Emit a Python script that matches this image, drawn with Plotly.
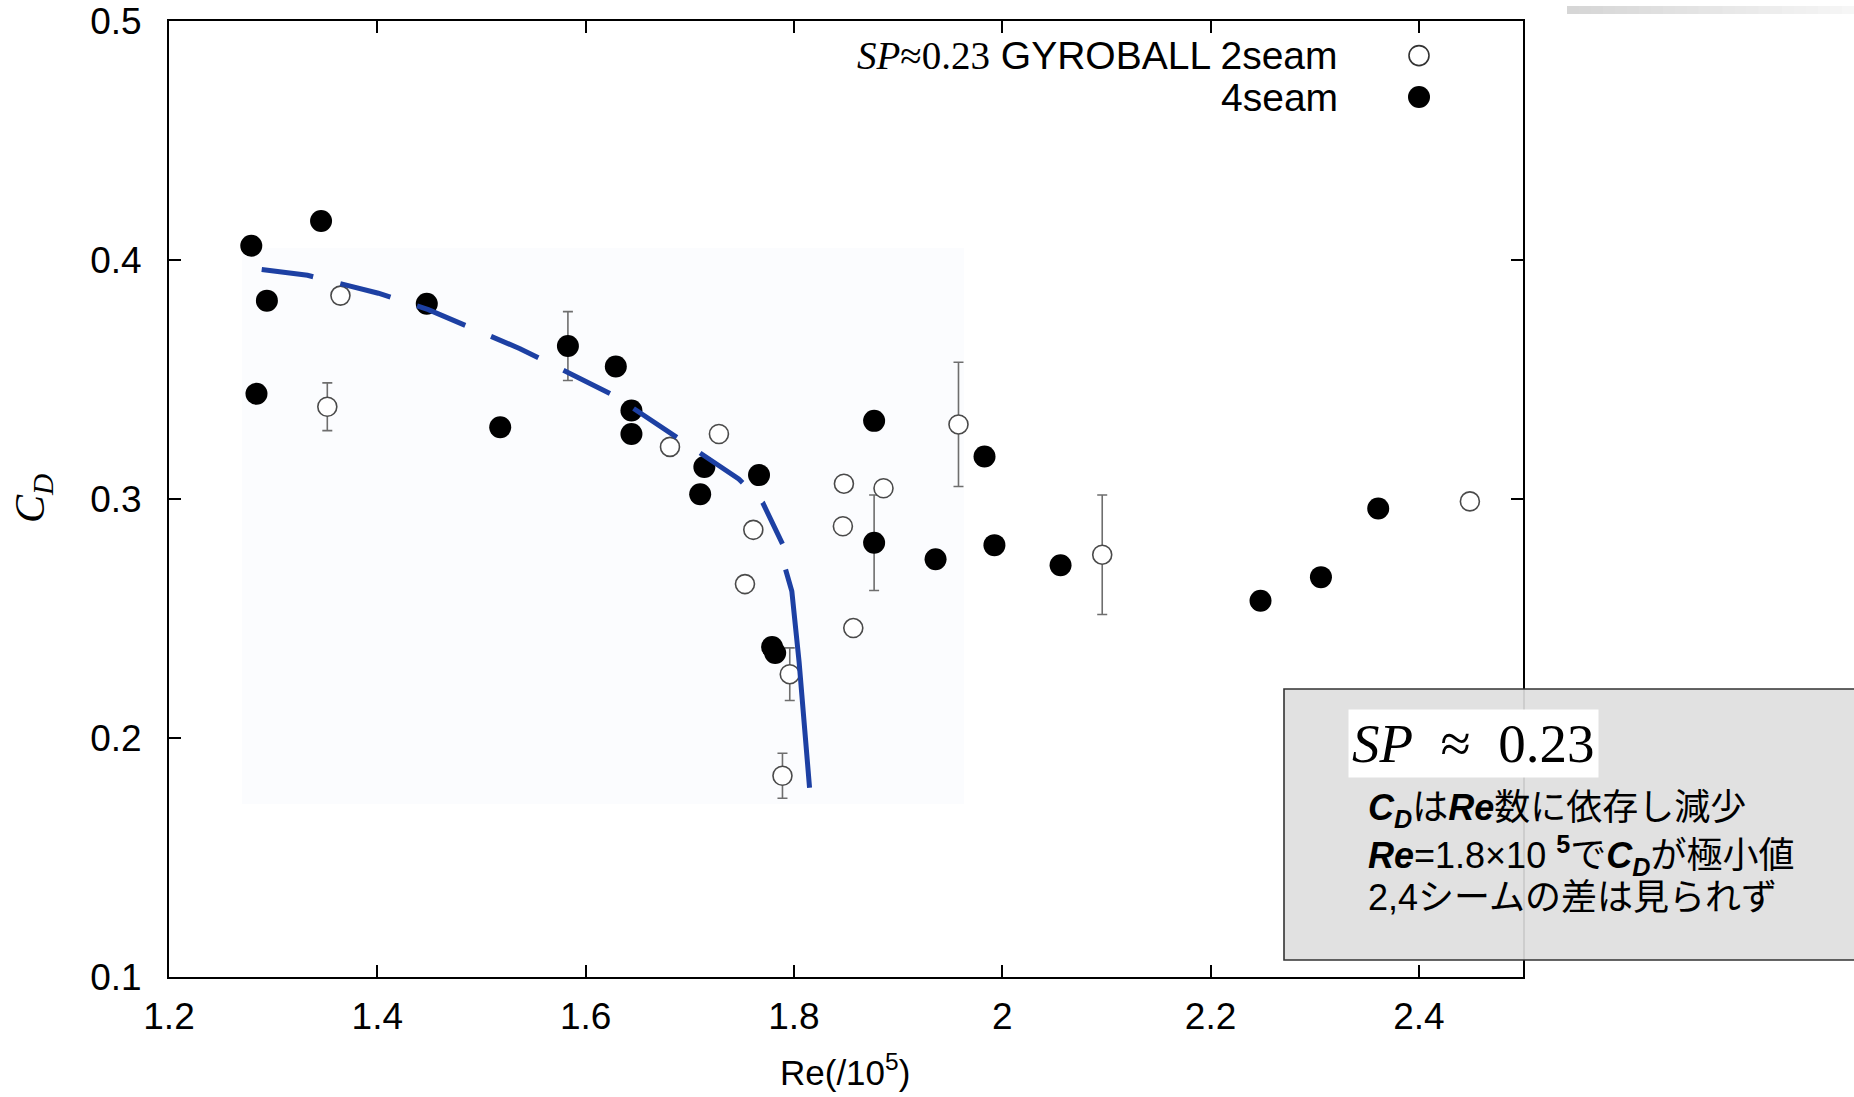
import plotly.graph_objects as go

# ---- data -----------------------------------------------------------------
# 4-seam (filled circles)
seam4_re = [1.279, 1.346, 1.294, 1.284, 1.4475, 1.518, 1.583, 1.629, 1.644, 1.644,
            1.714, 1.710, 1.7665, 1.877, 1.983, 1.877, 1.936, 1.9925, 2.056,
            1.779, 1.782, 2.248, 2.306, 2.361]
seam4_cd = [0.406, 0.4163, 0.383, 0.344, 0.3817, 0.330, 0.364, 0.3554, 0.337, 0.3272,
            0.3134, 0.302, 0.310, 0.3327, 0.3178, 0.2817, 0.2748, 0.2807, 0.2723,
            0.2381, 0.2356, 0.2574, 0.2673, 0.296]
seam4_err = [0, 0, 0, 0, 0, 0, 0.0144, 0, 0, 0,
             0, 0, 0, 0, 0, 0.020, 0, 0, 0,
             0, 0, 0, 0, 0]

# 2-seam (open circles)
seam2_re = [1.3646, 1.352, 1.681, 1.728, 1.761, 1.753, 1.796, 1.789, 1.847, 1.848,
            1.886, 1.857, 1.958, 2.096, 2.449]
seam2_cd = [0.3851, 0.3386, 0.3218, 0.3272, 0.2871, 0.2644, 0.2267, 0.1842, 0.2886, 0.3064,
            0.3045, 0.246, 0.3312, 0.2767, 0.299]
seam2_err = [0, 0.010, 0, 0, 0, 0, 0.011, 0.0094, 0, 0,
             0, 0, 0.026, 0.025, 0]

# trend curve
curve_re = [1.289, 1.333, 1.401, 1.449, 1.537, 1.628, 1.691, 1.747, 1.770, 1.789,
            1.792, 1.798, 1.805, 1.810, 1.815]
curve_cd = [0.396, 0.3936, 0.3861, 0.3792, 0.3629, 0.3431, 0.3248, 0.3084, 0.2985, 0.2812,
            0.2705, 0.2614, 0.2317, 0.2069, 0.1792]
DASHED_END = 10  # the curve is dashed up to here, solid after

x_ticks = [1.2, 1.4, 1.6, 1.8, 2.0, 2.2, 2.4]
x_tick_text = ["1.2", "1.4", "1.6", "1.8", "2", "2.2", "2.4"]
y_ticks = [0.1, 0.2, 0.3, 0.4, 0.5]
y_tick_text = ["0.1", "0.2", "0.3", "0.4", "0.5"]

# ---- layout geometry (pixels) ---------------------------------------------
W, H = 1854, 1097
PL, PR, PT, PB = 169, 1523, 21, 977
PW, PH = PR - PL, PB - PT


def px(x):
    return (x - PL) / PW


def py(y):
    return (PB - y) / PH


SANS = "Liberation Sans, Arial, Helvetica, sans-serif"
SERIF = "Liberation Serif, Times New Roman, serif"
JP = "Liberation Sans, Noto Sans CJK JP, sans-serif"
BLUE = "#1d40a3"

fig = go.Figure()

# error bars (drawn beneath the markers)
def err_trace(xs, ys, es):
    idx = [i for i, e in enumerate(es) if e > 0]
    return go.Scatter(
        x=[xs[i] for i in idx], y=[ys[i] for i in idx], mode="markers",
        marker=dict(size=1, opacity=0),
        error_y=dict(type="data", array=[es[i] for i in idx], visible=True,
                     color="#6e6e6e", thickness=1.6, width=5),
        hoverinfo="skip", showlegend=False)


fig.add_trace(err_trace(seam2_re, seam2_cd, seam2_err))
fig.add_trace(err_trace(seam4_re, seam4_cd, seam4_err))

fig.add_trace(go.Scatter(
    x=seam2_re, y=seam2_cd, mode="markers", name="2seam",
    marker=dict(symbol="circle", size=19, color="white",
                line=dict(color="#4a4a4a", width=1.6)),
    showlegend=False))

fig.add_trace(go.Scatter(
    x=seam4_re, y=seam4_cd, mode="markers", name="4seam",
    marker=dict(symbol="circle", size=22, color="black", line=dict(width=0)),
    showlegend=False))

fig.add_trace(go.Scatter(
    x=curve_re[:DASHED_END], y=curve_cd[:DASHED_END], mode="lines",
    line=dict(color=BLUE, width=5, dash="52px,28px"),
    hoverinfo="skip", showlegend=False))
fig.add_trace(go.Scatter(
    x=curve_re[DASHED_END:], y=curve_cd[DASHED_END:], mode="lines",
    line=dict(color=BLUE, width=5),
    hoverinfo="skip", showlegend=False))

axis_common = dict(
    showgrid=False, zeroline=False, showline=True, linecolor="black",
    linewidth=2, mirror="ticks", ticks="inside", ticklen=12, tickwidth=1.5,
    tickcolor="black", tickfont=dict(family=SANS, size=37, color="black"),
)

fig.update_xaxes(range=[1.2, 2.5], tickvals=x_ticks, ticktext=x_tick_text,
                 ticklabelstandoff=6, **axis_common)
fig.update_yaxes(range=[0.1, 0.5], tickvals=y_ticks, ticktext=y_tick_text,
                 ticklabelstandoff=18, **axis_common)

shapes = []

# faint tinted panel behind the low-Re data
shapes.append(dict(type="rect", xref="paper", yref="paper", layer="below",
                   x0=px(242), x1=px(964), y0=py(804), y1=py(248),
                   fillcolor="#fbfcfe", line=dict(width=0)))

# thin grey gradient strip in the top-right corner
n_strip = 24
x_start, x_end = 1567, 1854
for i in range(n_strip):
    g = int(214 + (246 - 214) * i / (n_strip - 1))
    shapes.append(dict(
        type="rect", xref="paper", yref="paper", layer="above",
        x0=px(x_start + (x_end - x_start) * i / n_strip),
        x1=px(x_start + (x_end - x_start) * (i + 1) / n_strip + 1),
        y0=py(14), y1=py(6),
        fillcolor=f"rgb({g},{g},{g})", line=dict(width=0)))

# legend keys
for yc, filled, r in [(55.6, False, 10), (97, True, 11)]:
    shapes.append(dict(
        type="circle", xref="paper", yref="paper", layer="above",
        xsizemode="pixel", ysizemode="pixel",
        xanchor=px(1419), yanchor=py(yc), x0=-r, x1=r, y0=-r, y1=r,
        fillcolor="black" if filled else "white",
        line=dict(color="#333" if not filled else "black",
                  width=1.6 if not filled else 0)))

# summary box
shapes.append(dict(type="rect", xref="paper", yref="paper", layer="above",
                   x0=px(1284), x1=px(1880), y0=py(960), y1=py(689),
                   fillcolor="rgba(222,222,222,0.92)",
                   line=dict(color="#333333", width=1.6)))

annotations = [
    # legend labels
    dict(xref="paper", yref="paper", x=px(1340), y=py(55.6), xanchor="right",
         yanchor="middle", showarrow=False,
         text=f'<span style="font-family:{SERIF}"><i>SP</i>≈0.23</span> GYROBALL 2seam',
         font=dict(family=SANS, size=39, color="black")),
    dict(xref="paper", yref="paper", x=px(1340), y=py(97), xanchor="right",
         yanchor="middle", showarrow=False, text="4seam",
         font=dict(family=SANS, size=39, color="black")),
    # axis titles
    dict(xref="paper", yref="paper", x=px(845), y=py(1070), xanchor="center",
         yanchor="middle", showarrow=False, text="Re(/10<sup>5</sup>)",
         font=dict(family=SANS, size=35, color="black")),
    dict(xref="paper", yref="paper", x=px(33), y=py(499), xanchor="center",
         yanchor="middle", showarrow=False, textangle=-90,
         text="<i>C<sub>D</sub></i>",
         font=dict(family=SERIF, size=42, color="black")),
    # summary box contents
    dict(xref="paper", yref="paper", x=px(1348), y=py(743), xanchor="left",
         yanchor="middle", showarrow=False,
         text="<i>SP</i>  ≈  0.23", bgcolor="white", borderpad=3,
         font=dict(family=SERIF, size=55, color="black")),
    dict(xref="paper", yref="paper", x=px(1366), y=py(810), xanchor="left",
         yanchor="middle", showarrow=False,
         text="<b><i>C<sub>D</sub></i></b>は<b><i>Re</i></b>数に依存し減少",
         font=dict(family=JP, size=36, color="black")),
    dict(xref="paper", yref="paper", x=px(1366), y=py(855), xanchor="left",
         yanchor="middle", showarrow=False,
         text="<b><i>Re</i></b>=1.8×10 <sup><b>5</b></sup>で<b><i>C<sub>D</sub></i></b>が極小値",
         font=dict(family=JP, size=36, color="black")),
    dict(xref="paper", yref="paper", x=px(1366), y=py(897), xanchor="left",
         yanchor="middle", showarrow=False,
         text="2,4シームの差は見られず",
         font=dict(family=JP, size=36, color="black")),
]

fig.update_layout(
    width=W, height=H,
    margin=dict(l=PL, r=W - PR, t=PT, b=H - PB, autoexpand=False),
    paper_bgcolor="white", plot_bgcolor="white",
    shapes=shapes, annotations=annotations, showlegend=False,
)

fig.write_html("out.html", config=dict(displayModeBar=False))
